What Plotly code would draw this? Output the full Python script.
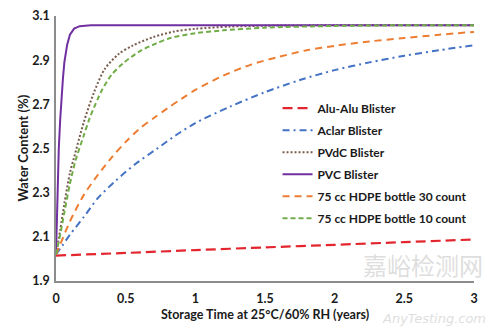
import plotly.graph_objects as go

# ---- data ----
alu_t = [0, 0.5, 1.0, 1.5, 2.0, 2.5, 3.0]
alu_v = [2.015, 2.027, 2.04, 2.052, 2.064, 2.076, 2.088]

aclar_t = [0, 0.045, 0.1, 0.2, 0.3, 0.43, 0.57, 0.72, 0.86, 1.0, 1.25, 1.5, 1.75, 2.0, 2.25, 2.5, 2.75, 3.0]
aclar_v = [2.02, 2.06, 2.11, 2.19, 2.275, 2.355, 2.43, 2.497, 2.56, 2.615, 2.69, 2.755, 2.81, 2.855, 2.89, 2.92, 2.945, 2.968]

pvdc_t = [0, 0.03, 0.06, 0.1, 0.13, 0.2, 0.27, 0.35, 0.45, 0.55, 0.7, 0.85, 1.0, 1.25, 1.5, 2.0, 3.0]
pvdc_v = [2.02, 2.13, 2.25, 2.39, 2.46, 2.62, 2.75, 2.86, 2.928, 2.966, 3.005, 3.03, 3.042, 3.052, 3.056, 3.058, 3.058]

pvc_t = [0, 0.005, 0.01, 0.015, 0.02, 0.03, 0.04, 0.05, 0.06, 0.08, 0.1, 0.13, 0.17, 0.25, 3.0]
pvc_v = [2.02, 2.16, 2.29, 2.40, 2.5, 2.63, 2.74, 2.82, 2.89, 2.97, 3.015, 3.043, 3.054, 3.058, 3.058]

hdpe30_t = [0, 0.03, 0.1, 0.2, 0.3, 0.4, 0.5, 0.6, 0.7, 0.8, 0.9, 1.0, 1.2, 1.4, 1.6, 1.8, 2.0, 2.25, 2.5, 2.75, 3.0]
hdpe30_v = [2.02, 2.065, 2.17, 2.29, 2.38, 2.46, 2.53, 2.59, 2.637, 2.682, 2.725, 2.765, 2.83, 2.88, 2.915, 2.945, 2.965, 2.985, 3.0, 3.015, 3.028]

hdpe10_t = [0, 0.03, 0.06, 0.1, 0.14, 0.2, 0.24, 0.3, 0.33, 0.4, 0.48, 0.6, 0.72, 0.82, 1.0, 1.2, 1.5, 2.0, 2.5, 3.0]
hdpe10_v = [2.02, 2.11, 2.21, 2.34, 2.445, 2.56, 2.635, 2.725, 2.765, 2.835, 2.885, 2.94, 2.976, 3.0, 3.022, 3.035, 3.047, 3.055, 3.058, 3.058]

series_names = ["Alu-Alu Blister", "Aclar Blister", "PVdC Blister", "PVC Blister",
                "75 cc HDPE bottle 30 count", "75 cc HDPE bottle 10 count"]

x_tickvals = [0, 0.5, 1, 1.5, 2, 2.5, 3]
x_ticktext = ["0", "0.5", "1", "1.5", "2", "2.5", "3"]
y_tickvals = [1.9, 2.1, 2.3, 2.5, 2.7, 2.9, 3.1]

x_title = "Storage Time at 25°C/60% RH (years)"
y_title = "Water Content (%)"

FONT = "Lato"
TXT = "#1a1a1a"

styles = [
    dict(color="#e3262e", dash="10px,5px", width=2.2),
    dict(color="#4472c4", dash="7px,4px,2px,4px", width=2),
    dict(color="#7a5c4c", dash="2px,2px", width=2),
    dict(color="#7030a0", dash="solid", width=2),
    dict(color="#ed7d31", dash="7px,5px", width=2),
    dict(color="#70ad47", dash="5px,3px", width=2),
]
data = [(alu_t, alu_v), (aclar_t, aclar_v), (pvdc_t, pvdc_v), (pvc_t, pvc_v),
        (hdpe30_t, hdpe30_v), (hdpe10_t, hdpe10_v)]

fig = go.Figure()
for i, ((t, v), name, st) in enumerate(zip(data, series_names, styles)):
    shape = "linear" if i == 3 else "spline"
    fig.add_trace(go.Scatter(
        x=t, y=v, mode="lines", name="<b>" + name + "</b>", legendgroup=str(i),
        line=dict(color=st["color"], dash=st["dash"], width=st["width"], shape=shape,
                  smoothing=0.8 if shape == "spline" else None),
    ))

fig.update_layout(
    width=500, height=327,
    margin=dict(l=56, r=26, t=16, b=46, autoexpand=False),
    paper_bgcolor="white", plot_bgcolor="white",
    font=dict(family=FONT, size=12, color=TXT),
    showlegend=True,
    legend=dict(
        x=0.53, y=0.707, xanchor="left", yanchor="top",
        bgcolor="rgba(0,0,0,0)", font=dict(family=FONT, size=12, color=TXT),
        tracegroupgap=3, itemwidth=30,
    ),
    xaxis=dict(
        range=[0, 3], tickvals=x_tickvals, ticktext=x_ticktext, automargin=False,
        showgrid=False, zeroline=False, showline=True, linecolor="#8c8c8c", linewidth=1.5,
        ticks="", tickfont=dict(family=FONT, size=12.5, color=TXT, weight="bold"),
        ticklabelstandoff=5,
    ),
    yaxis=dict(
        range=[1.9, 3.1], tickvals=y_tickvals, tickformat=".1f", automargin=False,
        showgrid=False, zeroline=False, showline=True, linecolor="#8c8c8c", linewidth=1.5,
        ticks="", tickfont=dict(family=FONT, size=12.5, color=TXT, weight="bold"),
        ticklabelstandoff=2,
    ),
)

# axis titles
fig.add_annotation(text="<b>" + x_title + "</b>", xref="paper", yref="paper",
                   x=0.5, y=-0.128, xanchor="center", yanchor="middle", showarrow=False,
                   font=dict(family=FONT, size=12.5, color=TXT))
fig.add_annotation(text="<b>" + y_title + "</b>", xref="paper", yref="paper",
                   x=-0.0813, y=0.5, xanchor="center", yanchor="middle", showarrow=False,
                   textangle=-90, font=dict(family=FONT, size=13, color=TXT))

# faint watermark as in the source image
fig.add_annotation(text="嘉峪检测网", xref="paper", yref="paper", x=1.026, y=-0.012,
                   xanchor="right", yanchor="bottom", showarrow=False,
                   font=dict(family="Noto Sans CJK SC", size=24, color="rgba(200,200,200,0.6)"))
fig.add_annotation(text="<i>AnyTesting.com</i>", xref="paper", yref="paper", x=1.033, y=-0.14,
                   xanchor="right", yanchor="middle", showarrow=False,
                   font=dict(family="DejaVu Sans", size=13, color="rgba(200,200,200,0.6)"))

fig.write_html("out.html")
